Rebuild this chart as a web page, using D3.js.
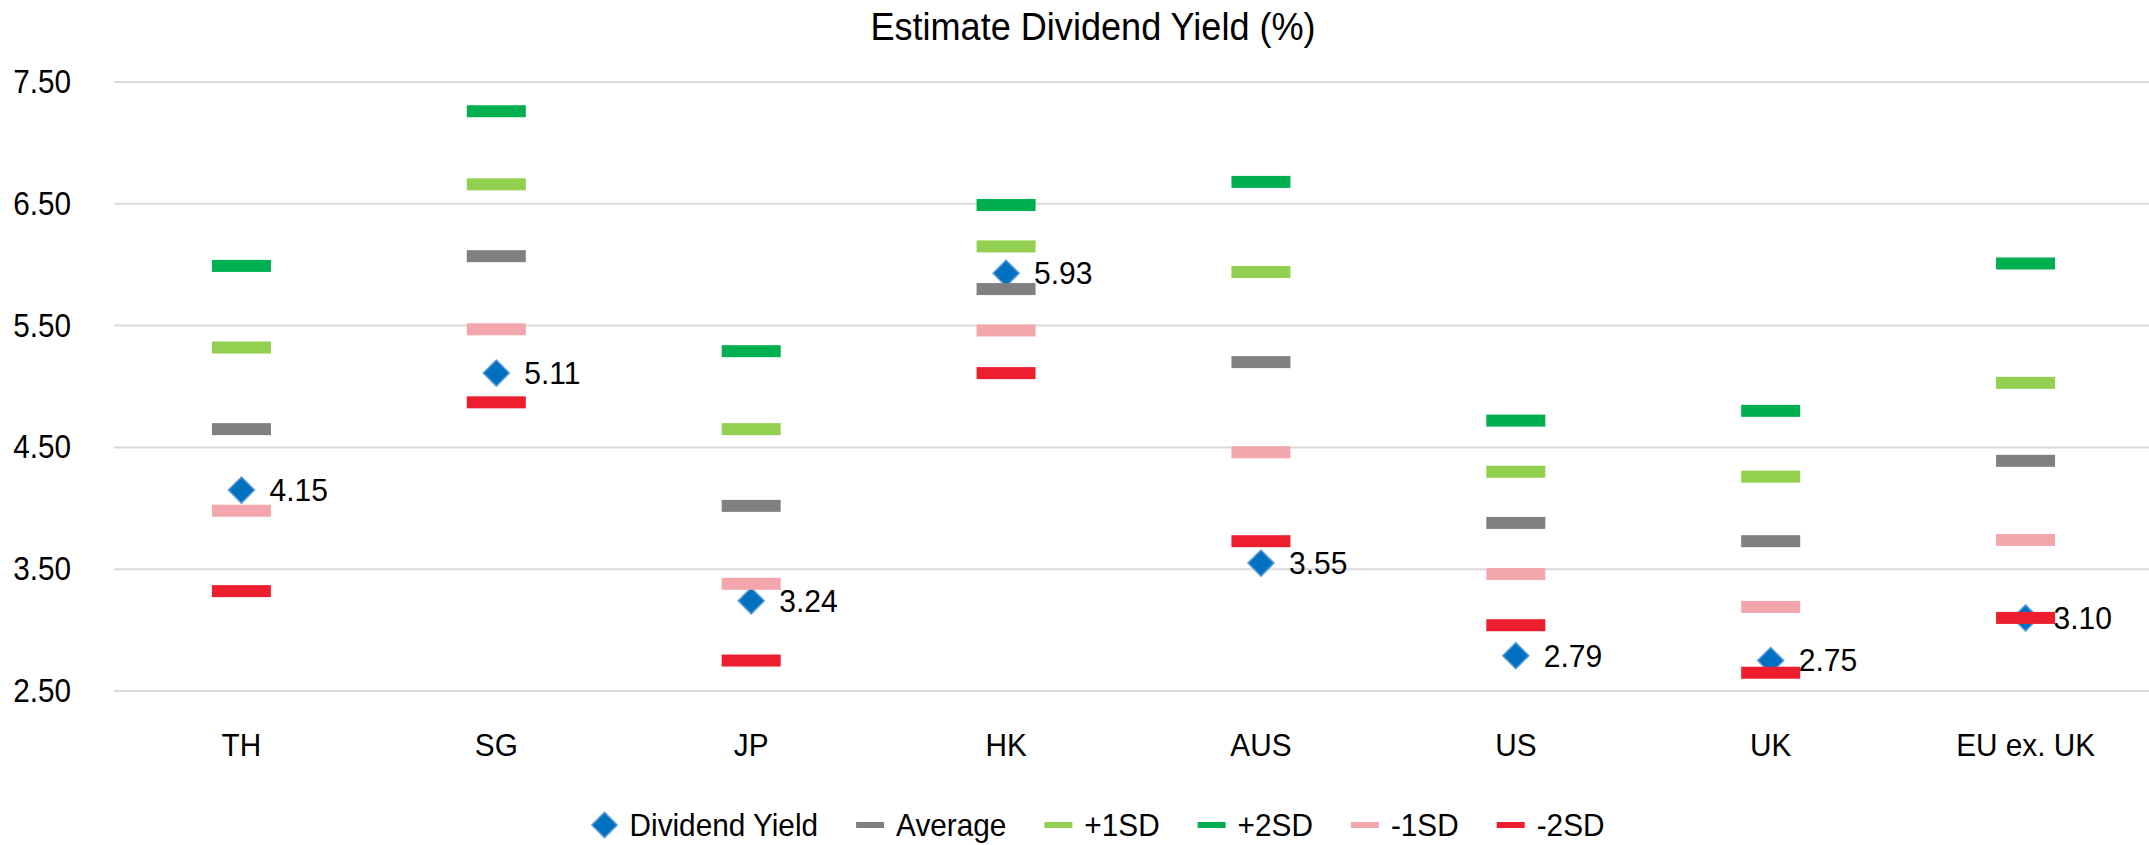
<!DOCTYPE html>
<html>
<head>
<meta charset="utf-8">
<script src="https://cdn.jsdelivr.net/npm/d3@7"></script>
<style>
  html, body { margin: 0; padding: 0; background: #fff; }
  svg { display: block; font-family: "Liberation Sans", Arial, sans-serif; }
</style>
</head>
<body>
<svg id="chart"></svg>
<script>
/* chart values */
const categories = ["TH", "SG", "JP", "HK", "AUS", "US", "UK", "EU ex. UK"];
const dividendYield = [4.15, 5.11, 3.24, 5.93, 3.55, 2.79, 2.75, 3.10];
const average = [4.65, 6.07, 4.02, 5.80, 5.20, 3.88, 3.73, 4.39];
const plus1SD = [5.32, 6.66, 4.65, 6.15, 5.94, 4.30, 4.26, 5.03];
const plus2SD = [5.99, 7.26, 5.29, 6.49, 6.68, 4.72, 4.80, 6.01];
const minus1SD = [3.98, 5.47, 3.38, 5.46, 4.46, 3.46, 3.19, 3.74];
const minus2SD = [3.32, 4.87, 2.75, 5.11, 3.73, 3.04, 2.65, 3.10];
const yTicks = [2.5, 3.5, 4.5, 5.5, 6.5, 7.5];

const width = 2149, height = 845;
/*the original font is a tall, narrow face: squeeze the text a little in x*/
const squeeze = 0.93;

/*series that are drawn as short flat dashes*/
const bandSeries = [
    {name: "Average", values: average, color: "#808080"},
    {name: "+1SD", values: plus1SD, color: "#92D050"},
    {name: "+2SD", values: plus2SD, color: "#00B050"},
    {name: "-1SD", values: minus1SD, color: "#F4A6AD"},
    {name: "-2SD", values: minus2SD, color: "#ED1F2E"}
];

const svg = d3.select("#chart")
    .attr("width", width)
    .attr("height", height);

const x = d3.scaleBand()
    .domain(categories)
    .range([114, 2153])
    .padding(0);

const y = d3.scaleLinear()
    .domain([2.5, 7.5])
    .range([691, 82]);

/*title*/
svg.append("text")
    .attr("transform", "translate(1093,40) scale(0.95,1)")
    .attr("text-anchor", "middle")
    .style("font-size", "38px")
    .style("fill", "#000")
    .text("Estimate Dividend Yield (%)");

/*gridlines*/
svg.append("g")
    .selectAll("line")
    .data(yTicks)
    .enter()
    .append("line")
    .attr("x1", 114)
    .attr("x2", width)
    .attr("y1", d => y(d))
    .attr("y2", d => y(d))
    .style("stroke", "#d9d9d9")
    .style("stroke-width", 2);

/*y axis labels*/
const yAxis = svg.append("g")
    .attr("transform", "translate(71,0)")
    .call(d3.axisLeft(y).tickValues(yTicks).tickFormat(d3.format(".2f")).tickSize(0).tickPadding(0));
yAxis.select(".domain").remove();
yAxis.selectAll("text")
    .attr("transform", "scale(0.9,1)")
    .style("font-family", "inherit")
    .style("font-size", "33px")
    .style("fill", "#000");

/*x axis labels*/
const xAxis = svg.append("g")
    .attr("transform", "translate(0,745)")
    .call(d3.axisBottom(x).tickSize(0).tickPadding(0));
xAxis.select(".domain").remove();
xAxis.selectAll("text")
    .attr("dy", "0.35em")
    .attr("transform", "scale(" + squeeze + ",1)")
    .style("font-family", "inherit")
    .style("font-size", "32px")
    .style("fill", "#000");

const diamond = d3.symbol().type(d3.symbolSquare).size(340);

/*dividend yield diamonds and their labels (drawn first, dashes sit on top)*/
const dyGroup = svg.append("g");
dyGroup.selectAll("path")
    .data(categories)
    .enter()
    .append("path")
    .attr("d", diamond)
    .attr("transform", (d, i) => "translate(" + (x(d) + x.bandwidth() / 2) + "," + y(dividendYield[i]) + ") rotate(45)")
    .style("fill", "#0070C0")
    .style("stroke", "#5B9BD5")
    .style("stroke-width", 1.5);

dyGroup.selectAll("text")
    .data(categories)
    .enter()
    .append("text")
    .attr("transform", (d, i) => "translate(" + (x(d) + x.bandwidth() / 2 + 28) + "," + y(dividendYield[i]) + ") scale(0.97,1)")
    .attr("dy", "0.35em")
    .style("font-size", "31px")
    .style("fill", "#000")
    .text((d, i) => dividendYield[i].toFixed(2));

/*dashes for average and SD bands*/
const dashW = 59, dashH = 12;
bandSeries.forEach(s => {
    svg.append("g")
        .selectAll("rect")
        .data(categories)
        .enter()
        .append("rect")
        .attr("x", d => x(d) + x.bandwidth() / 2 - dashW / 2)
        .attr("y", (d, i) => y(s.values[i]) - dashH / 2)
        .attr("width", dashW)
        .attr("height", dashH)
        .style("fill", s.color);
});

/*legend, laid out from measured text widths and centred*/
const legend = svg.append("g").attr("id", "legend");
const legendItems = [{name: "Dividend Yield", color: "#0070C0", diamond: true}]
    .concat(bandSeries.map(s => ({name: s.name, color: s.color, diamond: false})));

let cursor = 0;
legendItems.forEach(item => {
    const g = legend.append("g").attr("transform", "translate(" + cursor + ",0)");
    let markW;
    if (item.diamond) {
        markW = 26;
        g.append("path")
            .attr("d", d3.symbol().type(d3.symbolSquare).size(320))
            .attr("transform", "translate(13,0) rotate(45)")
            .style("fill", item.color)
            .style("stroke", "#5B9BD5")
            .style("stroke-width", 1.5);
    } else {
        markW = 28;
        g.append("rect")
            .attr("x", 0)
            .attr("y", -3)
            .attr("width", markW)
            .attr("height", 6)
            .style("fill", item.color);
    }
    const t = g.append("text")
        .attr("transform", "translate(" + (markW + 12) + ",0) scale(" + squeeze + ",1)")
        .attr("dy", "0.35em")
        .style("font-size", "32px")
        .style("fill", "#000")
        .text(item.name);
    cursor += markW + 12 + t.node().getComputedTextLength() * squeeze + 38;
});
cursor -= 38;
legend.attr("transform", "translate(" + (1098 - cursor / 2) + ",825)");
</script>
</body>
</html>
